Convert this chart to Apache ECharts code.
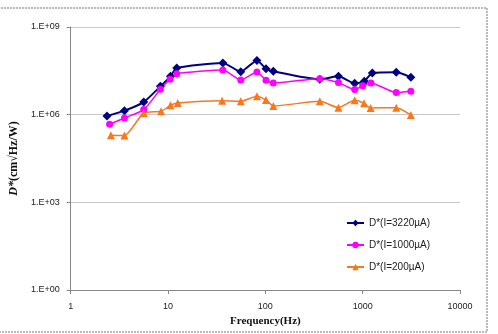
<!DOCTYPE html>
<html>
<head>
<meta charset="utf-8">
<script src="https://cdn.jsdelivr.net/npm/echarts@6/dist/echarts.min.js"></script>
<style>
  html, body { margin: 0; padding: 0; background: #fff; }
  #chart { width: 498px; height: 334px; }
</style>
</head>
<body>
<div id="chart"></div>
<script>
// frequency (Hz) per curve
const freq3220 = [2.36, 3.57, 5.63, 8.35, 10.6, 12.3, 36.6, 55.9, 82, 101.6, 120.7, 363, 564, 828, 1040, 1256, 2213, 3126];
const d3220 = [9.0e5, 1.37e6, 2.7e6, 9.3e6, 2.05e7, 3.96e7, 5.87e7, 2.96e7, 7.2e7, 3.76e7, 3.04e7, 1.62e7, 2.05e7, 1.18e7, 1.38e7, 2.67e7, 2.81e7, 1.9e7];

const freq1000 = [2.51, 3.57, 5.63, 8.35, 10.5, 12.3, 36.6, 55.9, 82, 101.6, 120.7, 363, 564, 828, 1000, 1217, 2213, 3126];
const d1000 = [4.68e5, 7.7e5, 1.49e6, 7.4e6, 1.62e7, 2.53e7, 3.38e7, 1.54e7, 2.89e7, 1.5e7, 1.21e7, 1.71e7, 1.25e7, 7.2e6, 9.8e6, 1.21e7, 5.7e6, 6.3e6];

const freq200 = [2.59, 3.57, 5.63, 8.48, 10.6, 12.6, 36, 55.9, 82, 101.6, 121, 363, 564, 828, 1034, 1207, 2213, 3126];
const d200 = [1.97e5, 1.92e5, 1.14e6, 1.3e6, 2.09e6, 2.51e6, 3.02e6, 2.87e6, 4.25e6, 3.18e6, 1.99e6, 2.87e6, 1.74e6, 3.1e6, 2.45e6, 1.69e6, 1.74e6, 9.8e5];

const seriesNames = ['D*(I=3220µA)', 'D*(I=1000µA)', 'D*(I=200µA)'];
const seriesColors = ['#000080', '#ff00ff', '#f7781f'];

const zip = (xs, ys) => xs.map((x, i) => [x, ys[i]]);

const chart = echarts.init(document.getElementById('chart'));

const yLabel = (v) => {
  const e = Math.round(Math.log10(v));
  return '1.E+' + (e < 10 ? '0' + e : e);
};

chart.setOption({
  animation: false,
  color: seriesColors,
  graphic: [
    {
      type: 'rect',
      shape: { x: -2, y: 8, width: 489, height: 324 },
      style: { fill: 'none', stroke: '#777', lineWidth: 1, lineDash: [2, 1] },
    },
  ],
  grid: {
    left: 69,
    right: 38,
    top: 27,
    bottom: 44,
  },
  legend: {
    orient: 'vertical',
    left: 341,
    top: 213,
    itemGap: 12,
    itemWidth: 17,
    itemHeight: 8,
    textStyle: {
      fontFamily: 'Liberation Sans, Arial',
      fontSize: 10,
      color: '#222',
    },
    data: seriesNames,
  },
  xAxis: {
    type: 'log',
    logBase: 10,
    min: 1,
    max: 10000,
    name: 'Frequency(Hz)',
    nameLocation: 'middle',
    nameGap: 26,
    nameTextStyle: {
      fontFamily: 'Liberation Serif, Times New Roman',
      fontWeight: 'bold',
      fontSize: 11,
      color: '#111',
    },
    axisLine: { lineStyle: { color: '#888', width: 1 } },
    axisTick: { show: true, length: 4, lineStyle: { color: '#888' } },
    minorTick: { show: false },
    splitLine: { show: false },
    axisLabel: {
      fontFamily: 'Liberation Sans, Arial',
      fontSize: 9,
      color: '#222',
      margin: 12,
      formatter: (v) => String(Math.round(v)),
    },
  },
  yAxis: {
    type: 'log',
    logBase: 1000,
    min: 1,
    max: 1e9,
    name: '{i|D*}{b|(cm√Hz/W)}',
    nameLocation: 'middle',
    nameGap: 44,
    nameRotate: 90,
    nameTextStyle: {
      rich: {
        i: {
          fontFamily: 'Liberation Serif, Times New Roman',
          fontStyle: 'italic',
          fontWeight: 'bold',
          fontSize: 12,
          color: '#111',
        },
        b: {
          fontFamily: 'Liberation Serif, Times New Roman',
          fontWeight: 'bold',
          fontSize: 12,
          color: '#111',
        },
      },
    },
    axisLine: { show: true, lineStyle: { color: '#888', width: 1 } },
    axisTick: { show: true, length: 4, lineStyle: { color: '#888' } },
    splitLine: { show: true, lineStyle: { color: '#c8c8c8', width: 1 } },
    axisLabel: {
      fontFamily: 'Liberation Sans, Arial',
      fontSize: 9,
      color: '#222',
      margin: 11,
      formatter: yLabel,
    },
  },
  series: [
    {
      name: seriesNames[0],
      type: 'line',
      data: zip(freq3220, d3220),
      symbol: 'diamond',
      symbolSize: 9,
      smooth: 0.2,
      lineStyle: { width: 2 },
    },
    {
      name: seriesNames[1],
      type: 'line',
      data: zip(freq1000, d1000),
      symbol: 'circle',
      symbolSize: 7,
      smooth: 0.2,
      lineStyle: { width: 1.5 },
    },
    {
      name: seriesNames[2],
      type: 'line',
      data: zip(freq200, d200),
      symbol: 'triangle',
      symbolSize: 8,
      smooth: 0.2,
      lineStyle: { width: 1.5 },
    },
  ],
});
</script>
</body>
</html>
